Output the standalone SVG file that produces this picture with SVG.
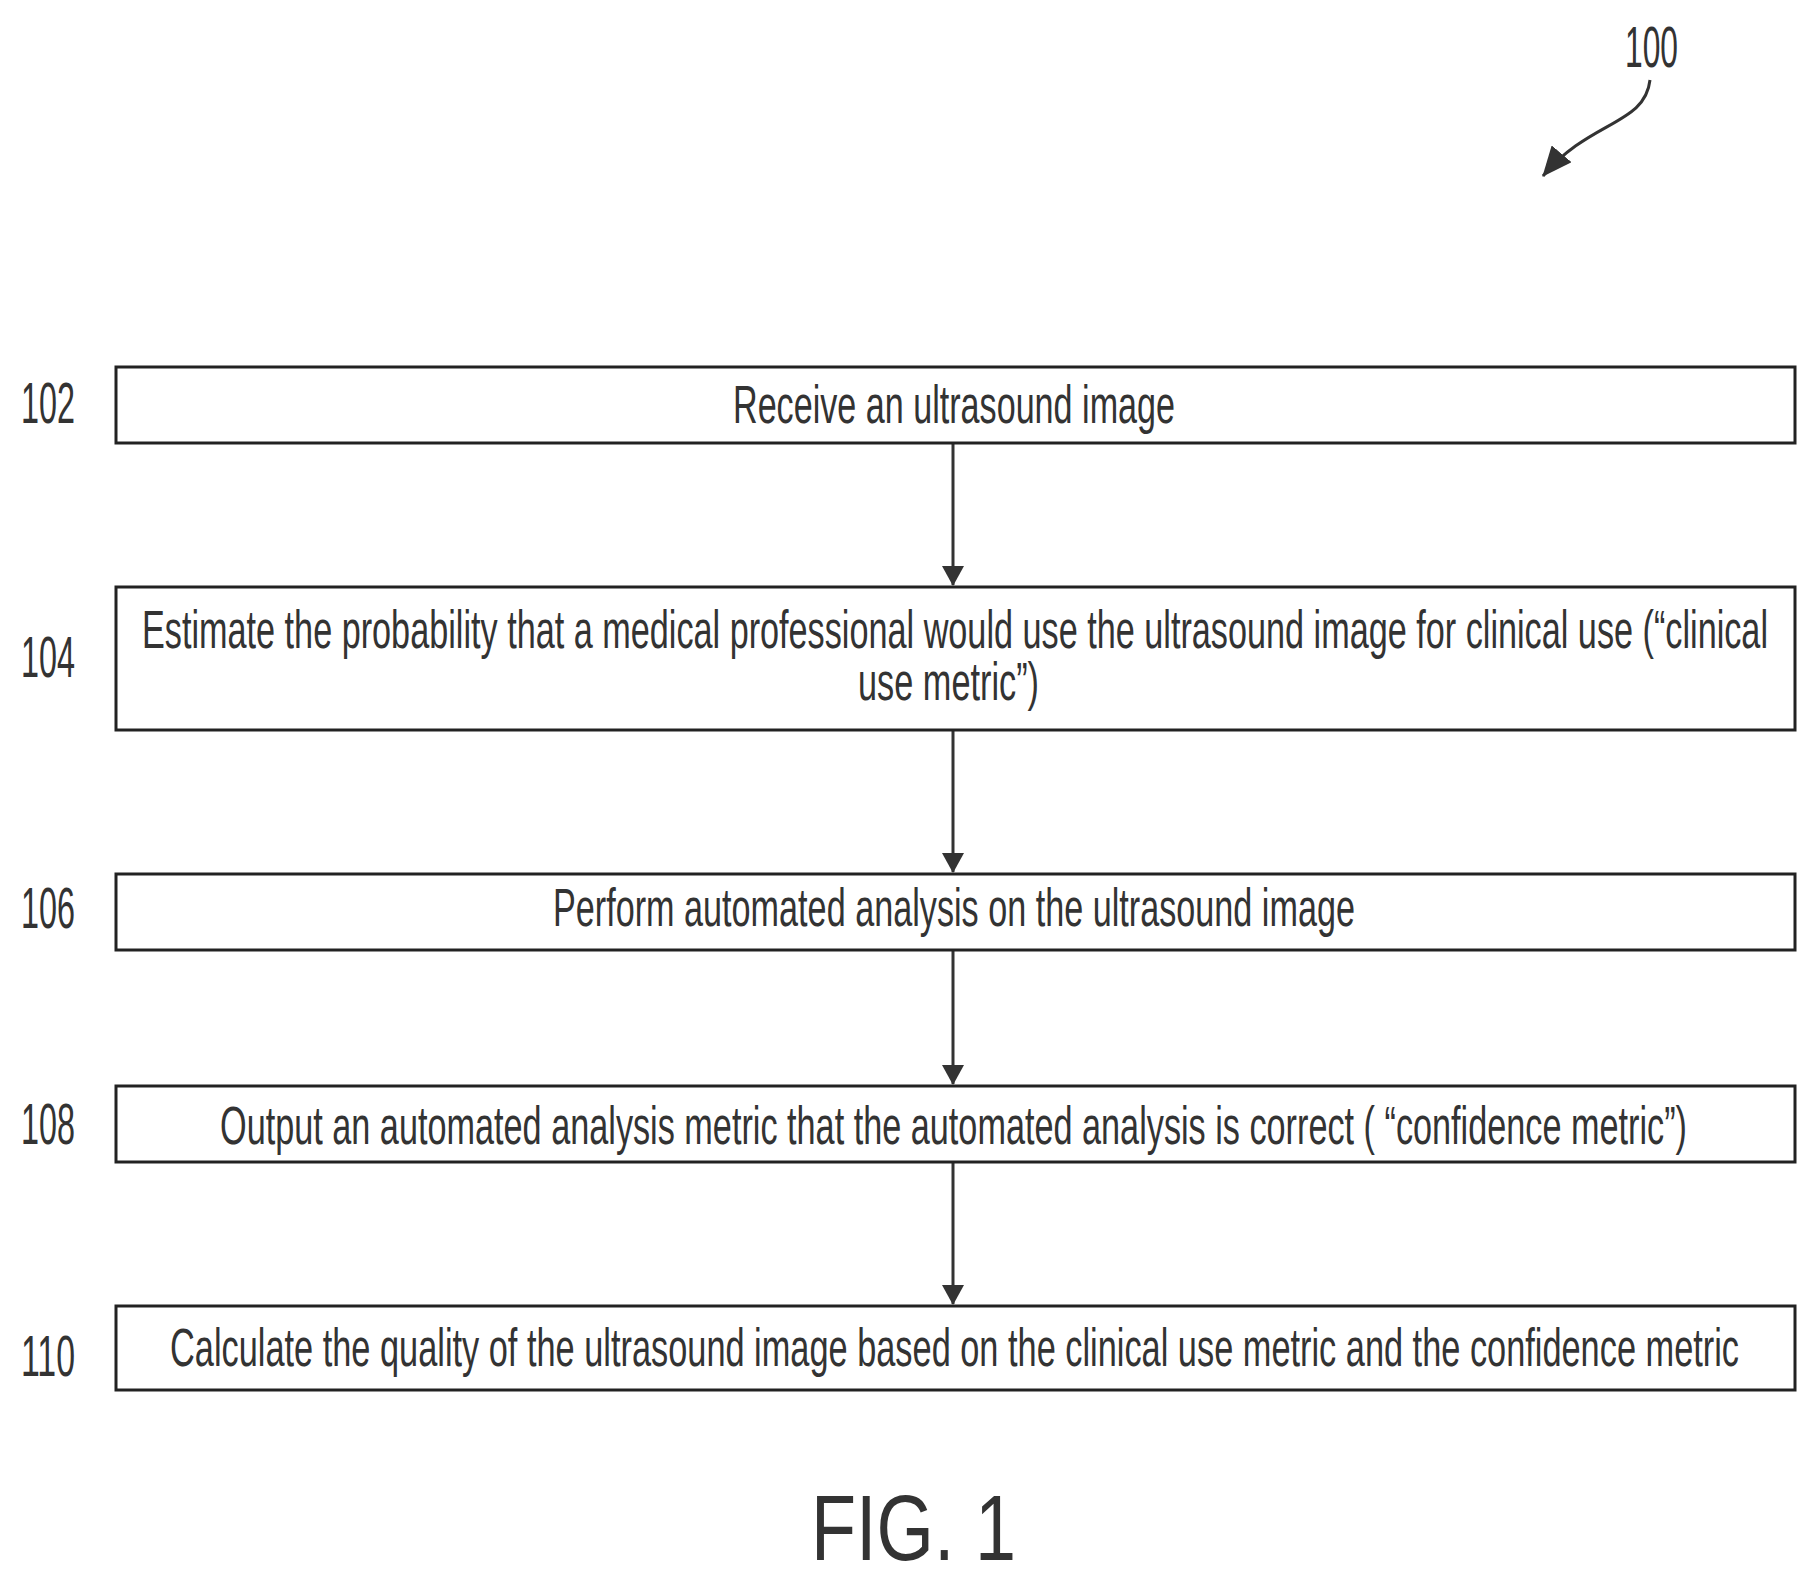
<svg xmlns="http://www.w3.org/2000/svg" width="1816" height="1583" viewBox="0 0 1816 1583">
<style>
.box{fill:#fff;stroke:#222;stroke-width:3}
.t{font-family:"Liberation Sans",Arial,sans-serif;font-size:54px;fill:#333}
.l{font-family:"Liberation Sans",Arial,sans-serif;font-size:58px;fill:#333}
.c{stroke:#333;stroke-width:3;fill:none}
</style>
<defs>
<marker id="ah2" viewBox="0 0 20 22" refX="19" refY="11" markerWidth="20" markerHeight="22" orient="auto" markerUnits="userSpaceOnUse"><path d="M0,0L20,11L0,22z" fill="#333"/></marker>
<marker id="ah3" viewBox="0 0 30 26" refX="29" refY="13" markerWidth="30" markerHeight="26" orient="auto" markerUnits="userSpaceOnUse"><path d="M0,0L30,13L0,26z" fill="#333"/></marker>
</defs>
<rect width="1816" height="1583" fill="#fff"/>
<text class="l" x="1625" y="67" textLength="53" lengthAdjust="spacingAndGlyphs">100</text>
<g id="connectors">
<path class="c" d="M1650,80 C1645,125 1590,120 1543,176" marker-end="url(#ah3)"/>
<line class="c" x1="953" y1="443" x2="953" y2="585" marker-end="url(#ah2)"/>
<line class="c" x1="953" y1="730" x2="953" y2="872" marker-end="url(#ah2)"/>
<line class="c" x1="953" y1="950" x2="953" y2="1084" marker-end="url(#ah2)"/>
<line class="c" x1="953" y1="1162" x2="953" y2="1304" marker-end="url(#ah2)"/>
</g>
<g id="n102"><text class="l" x="21" y="423" textLength="54" lengthAdjust="spacingAndGlyphs">102</text><rect class="box" x="116" y="367" width="1679" height="76"/><text class="t" x="733" y="423" textLength="442" lengthAdjust="spacingAndGlyphs">Receive an ultrasound image</text></g>
<g id="n104"><text class="l" x="21" y="677" textLength="54" lengthAdjust="spacingAndGlyphs">104</text><rect class="box" x="116" y="587" width="1679" height="143"/><text class="t" x="142" y="648" textLength="1626" lengthAdjust="spacingAndGlyphs">Estimate the probability that a medical professional would use the ultrasound image for clinical use (“clinical</text><text class="t" x="858" y="700" textLength="181" lengthAdjust="spacingAndGlyphs">use metric”)</text></g>
<g id="n106"><text class="l" x="21" y="928" textLength="54" lengthAdjust="spacingAndGlyphs">106</text><rect class="box" x="116" y="874" width="1679" height="76"/><text class="t" x="553" y="926" textLength="802" lengthAdjust="spacingAndGlyphs">Perform automated analysis on the ultrasound image</text></g>
<g id="n108"><text class="l" x="21" y="1144" textLength="54" lengthAdjust="spacingAndGlyphs">108</text><rect class="box" x="116" y="1086" width="1679" height="76"/><text class="t" x="220" y="1144" textLength="1467" lengthAdjust="spacingAndGlyphs">Output an automated analysis metric that the automated analysis is correct ( “confidence metric”)</text></g>
<g id="n110"><text class="l" x="21" y="1376" textLength="54" lengthAdjust="spacingAndGlyphs">110</text><rect class="box" x="116" y="1306" width="1679" height="84"/><text class="t" x="170" y="1366" textLength="1569" lengthAdjust="spacingAndGlyphs">Calculate the quality of the ultrasound image based on the clinical use metric and the confidence metric</text></g>
<text x="811" y="1560" font-family="Liberation Sans,Arial,sans-serif" font-size="92" fill="#333" textLength="205" lengthAdjust="spacingAndGlyphs">FIG. 1</text>
</svg>
